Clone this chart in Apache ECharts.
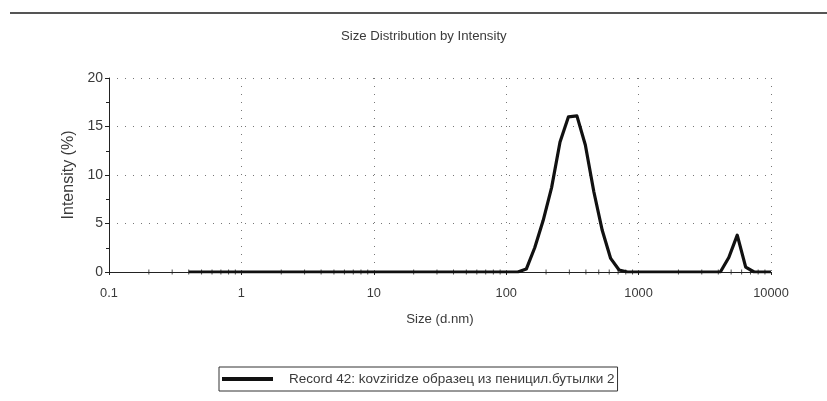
<!DOCTYPE html>
<html>
<head>
<meta charset="utf-8">
<script src="https://cdn.jsdelivr.net/npm/echarts@6/dist/echarts.min.js"></script>
<style>
  html, body { margin: 0; padding: 0; background: #fff; }
  #chart { width: 827px; height: 401px; }
</style>
</head>
<body>
<div id="chart"></div>
<script>
// Size classes (d.nm), log-spaced from 0.4 to 10000
const sizes = [
  0.4, 0.4632, 0.5365, 0.6213, 0.7195, 0.8332, 0.9649,
  1.117, 1.294, 1.499, 1.736, 2.010, 2.328, 2.696, 3.122, 3.615, 4.187, 4.849, 5.615, 6.503, 7.531, 8.721,
  10.10, 11.70, 13.54, 15.69, 18.17, 21.04, 24.36, 28.21, 32.67, 37.84, 43.82, 50.75, 58.77, 68.06, 78.82, 91.28,
  105.7, 122.4, 141.8, 164.2, 190.1, 220.2, 255.0, 295.3, 342.0, 396.1, 458.7, 531.2, 615.1, 712.4, 825.0, 955.4,
  1106, 1281, 1484, 1718, 1990, 2305, 2669, 3091, 3580, 4145, 4801, 5560, 6439, 7456, 8635, 10000
];

// Intensity (%) in each size class
const intensity = [
  0, 0, 0, 0, 0, 0, 0,
  0, 0, 0, 0, 0, 0, 0, 0, 0, 0, 0, 0, 0, 0, 0,
  0, 0, 0, 0, 0, 0, 0, 0, 0, 0, 0, 0, 0, 0, 0, 0,
  0, 0, 0.3, 2.5, 5.3, 8.7, 13.4, 16.0, 16.1, 13.1, 8.3, 4.3, 1.4, 0.2, 0, 0,
  0, 0, 0, 0, 0, 0, 0, 0, 0, 0, 1.5, 3.8, 0.5, 0, 0, 0
];

// Minor tick positions on the size axis (2..9 within each decade)
const minorTickSizes = [];
[0.1, 1, 10, 100, 1000].forEach(function (d) {
  for (let k = 2; k <= 9; k++) minorTickSizes.push(+(d * k).toPrecision(4));
});

const seriesName = 'Record 42: kovziridze образец из пеницил.бутылки 2';
const titleText = 'Size Distribution by Intensity';
const xName = 'Size (d.nm)';
const yName = 'Intensity (%)';

const FONT = '"Liberation Sans", Arial, sans-serif';
const TEXT = '#3a3a3a';
const dotted = { color: '#777', width: 1, type: [1, 7] };

const chart = echarts.init(document.getElementById('chart'), null, { renderer: 'canvas' });

chart.setOption({
  backgroundColor: '#fff',
  animation: false,
  title: {
    text: titleText,
    left: 336,
    top: 25,
    textStyle: { fontFamily: FONT, fontSize: 13.2, fontWeight: 'normal', color: TEXT }
  },
  graphic: [{
    type: 'line',
    shape: { x1: 10, y1: 13, x2: 827, y2: 13 },
    style: { stroke: '#555', lineWidth: 2 },
    silent: true
  }],
  grid: {
    left: 109, right: 56, top: 78, bottom: 129,
    containLabel: false, outerBoundsMode: 'none'
  },
  legend: {
    left: 219,
    top: 367,
    padding: [4, 3, 4, 3],
    borderColor: '#333',
    borderWidth: 1,
    icon: 'rect',
    itemWidth: 51,
    itemHeight: 4,
    data: [{ name: seriesName, itemStyle: { color: '#111' } }],
    textStyle: { fontFamily: FONT, fontSize: 13.5, lineHeight: 16, color: TEXT, padding: [0, 0, 0, 11] }
  },
  xAxis: {
    type: 'log',
    logBase: 10,
    min: 0.1,
    max: 10000,
    name: xName,
    nameLocation: 'middle',
    nameGap: 41,
    nameTextStyle: { fontFamily: FONT, fontSize: 13.2, color: TEXT },
    axisLine: { show: true, lineStyle: { color: '#222', width: 1 } },
    axisTick: { show: true, length: 3, lineStyle: { color: '#222' } },
    axisLabel: {
      margin: 15,
      fontFamily: FONT, fontSize: 12.8, color: TEXT,
      formatter: function (v) { return String(+(+v).toPrecision(6)); }
    },
    splitLine: { show: true, lineStyle: dotted }
  },
  yAxis: {
    type: 'value',
    min: 0,
    max: 20,
    interval: 5,
    name: yName,
    nameLocation: 'middle',
    nameGap: 28,
    nameTextStyle: { fontFamily: FONT, fontSize: 16, color: TEXT },
    axisLine: { show: true, lineStyle: { color: '#222', width: 1 } },
    axisTick: { show: true, length: 4, lineStyle: { color: '#222' } },
    minorTick: { show: true, splitNumber: 2, length: 3, lineStyle: { color: '#222' } },
    axisLabel: { margin: 6, fontFamily: FONT, fontSize: 14, color: TEXT },
    splitLine: { show: true, lineStyle: dotted }
  },
  series: [
    {
      name: 'minor ticks',
      type: 'scatter',
      silent: true,
      symbol: 'rect',
      symbolSize: [1, 5],
      itemStyle: { color: '#222' },
      z: 1,
      data: minorTickSizes.map(function (s) { return [s, 0]; })
    },
    {
      name: seriesName,
      type: 'line',
      symbol: 'none',
      smooth: false,
      z: 3,
      lineStyle: { color: '#111', width: 3.2, join: 'round' },
      itemStyle: { color: '#111' },
      data: sizes.map(function (s, i) { return [s, intensity[i]]; })
    }
  ]
});
</script>
</body>
</html>
